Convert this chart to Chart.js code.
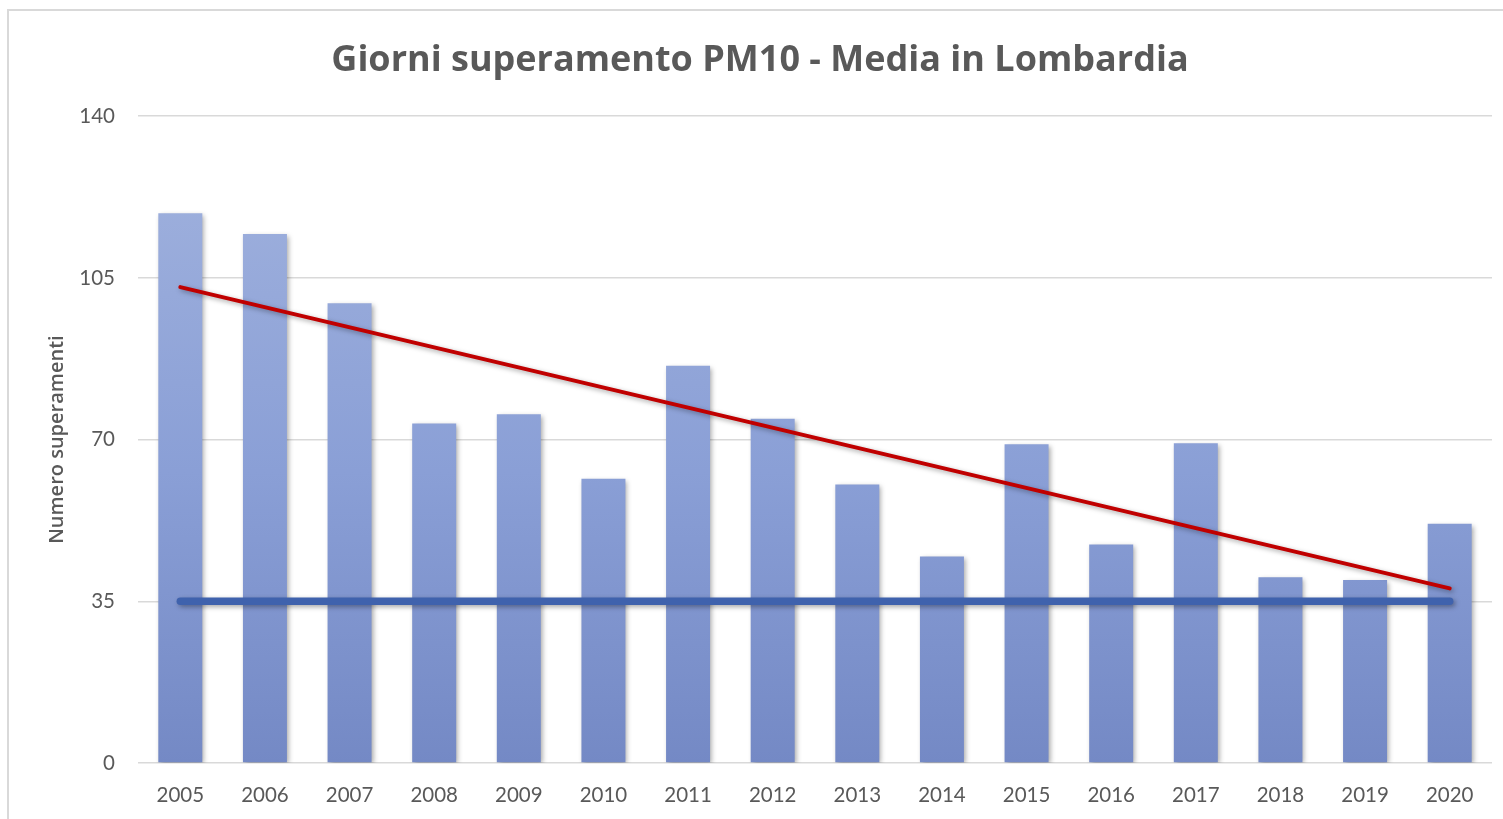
<!DOCTYPE html>
<html lang="it">
<head>
  <meta charset="UTF-8">
  <title>Giorni superamento PM10 - Media in Lombardia</title>
  <script src="https://cdn.jsdelivr.net/npm/chart.js"></script>
  <style>
    body {
      margin: 0;
      background: #fff;
    }
    .wrap {
      position: relative;
      width: 1503px;
      height: 819px;
      overflow: hidden;
    }
    .frame {
      position: absolute;
      left: 7px;
      top: 9px;
      width: 1600px;
      height: 900px;
      border-left: 2px solid #d9d9d9;
      border-top: 2px solid #d9d9d9;
      pointer-events: none;
    }
  </style>
</head>
<body>
  <div class="wrap">
    <canvas id="chart" width="1503" height="819"></canvas>
    <div class="frame"></div>
  </div>

  <script>
    // dati
    const anni = ['2005', '2006', '2007', '2008', '2009', '2010', '2011', '2012',
                  '2013', '2014', '2015', '2016', '2017', '2018', '2019', '2020'];
    const giorni = [119, 114.5, 99.5, 73.5, 75.5, 61.5, 86, 74.5,
                    60.3, 44.7, 69, 47.3, 69.2, 40.2, 39.6, 51.8];
    // linea di tendenza: solo gli estremi, il resto viene unito con spanGaps
    const tendenza = [103, null, null, null, null, null, null, null,
                      null, null, null, null, null, null, null, 37.8];
    const limite = [35, 35, 35, 35, 35, 35, 35, 35,
                    35, 35, 35, 35, 35, 35, 35, 35];
    const yTicks = [0, 35, 70, 105, 140];

    const grigio = '#595959';

    function barGradient(context) {
      const area = context.chart.chartArea;
      if (!area) return '#8fa3d6';
      const g = context.chart.ctx.createLinearGradient(0, area.top, 0, area.bottom);
      g.addColorStop(0, '#a2b3de');
      g.addColorStop(0.55, '#8a9fd6');
      g.addColorStop(1, '#7489c5');
      return g;
    }

    // ombra leggera come in Excel
    const shadowPlugin = {
      id: 'shadow',
      beforeDatasetDraw(chart, args) {
        const ctx = chart.ctx;
        ctx.save();
        ctx.shadowColor = 'rgba(0,0,0,0.35)';
        ctx.shadowBlur = 5;
        ctx.shadowOffsetX = 2;
        ctx.shadowOffsetY = 2;
      },
      afterDatasetDraw(chart) {
        chart.ctx.restore();
      }
    };

    new Chart(document.getElementById('chart'), {
      data: {
        labels: anni,
        datasets: [
          {
            type: 'line',
            label: 'Tendenza',
            data: tendenza,
            spanGaps: true,
            borderColor: '#c00000',
            borderWidth: 4,
            pointRadius: 0,
            borderCapStyle: 'round',
            order: 1
          },
          {
            type: 'line',
            label: 'Limite',
            data: limite,
            borderColor: '#3f62ad',
            borderWidth: 7.5,
            pointRadius: 0,
            borderCapStyle: 'round',
            order: 2
          },
          {
            type: 'bar',
            label: 'Giorni',
            data: giorni,
            backgroundColor: barGradient,
            barPercentage: 0.52,
            categoryPercentage: 1,
            order: 3
          }
        ]
      },
      options: {
        responsive: false,
        animation: false,
        layout: {
          padding: { left: 28, right: 11, top: 0, bottom: 13 }
        },
        plugins: {
          legend: { display: false },
          tooltip: { enabled: false },
          title: {
            display: true,
            text: 'Giorni superamento PM10 - Media in Lombardia',
            color: grigio,
            font: { family: 'Open Sans', size: 36, weight: 'bold', lineHeight: 1.2 },
            padding: { top: 39, bottom: 34 }
          }
        },
        scales: {
          x: {
            grid: { display: false, drawTicks: false },
            border: { display: false },
            ticks: {
              color: grigio,
              font: { family: 'Lato', size: 20.5 },
              padding: 20,
              maxRotation: 0
            },
            afterFit(scale) { scale.height = 43; }
          },
          y: {
            min: 0,
            max: 140,
            afterBuildTicks(scale) {
              scale.ticks = yTicks.map(v => ({ value: v }));
            },
            grid: { color: '#d9d9d9', lineWidth: 1.5, drawTicks: false },
            border: { display: false },
            ticks: {
              color: grigio,
              font: { family: 'Lato', size: 20.5 },
              padding: 23
            },
            title: {
              display: true,
              text: 'Numero superamenti',
              color: grigio,
              font: { family: 'Open Sans', size: 20, weight: '600' },
              padding: { top: 17, bottom: 0 }
            },
            afterFit(scale) { scale.width = 110; }
          }
        }
      },
      plugins: [shadowPlugin]
    });
  </script>
</body>
</html>
